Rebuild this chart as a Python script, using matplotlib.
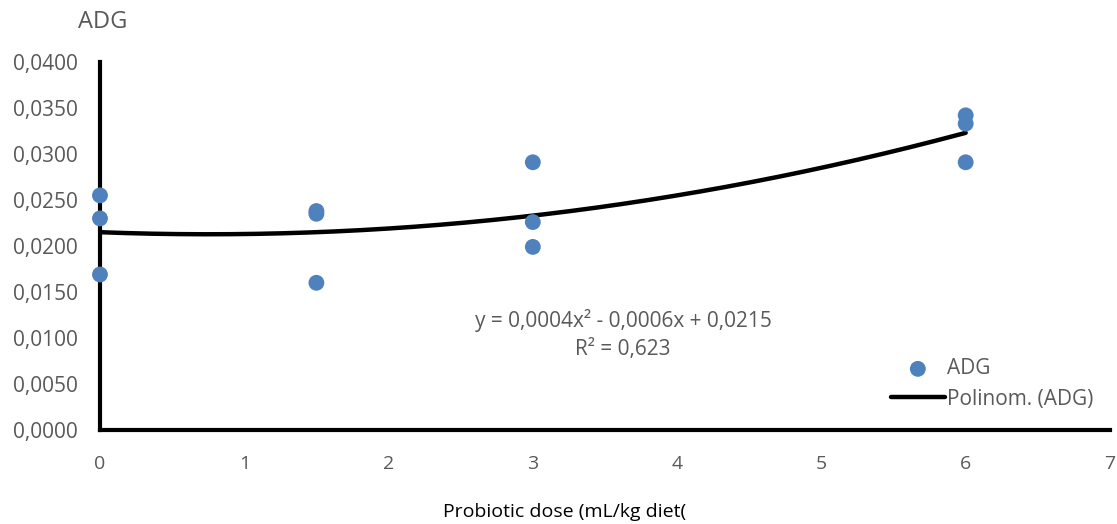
import matplotlib.pyplot as plt
import numpy as np

# data
dose = [0, 0, 0, 1.5, 1.5, 1.5, 3, 3, 3, 6, 6, 6]
adg = [0.0255, 0.0230, 0.0169, 0.0238, 0.0235, 0.0160,
       0.0291, 0.0226, 0.0199, 0.0342, 0.0333, 0.0291]
coef = [0.0004, -0.0006, 0.0215]  # y = 0,0004x2 - 0,0006x + 0,0215
r2 = "0,623"
xticks = [0, 1, 2, 3, 4, 5, 6, 7]
yticks = [0, 0.005, 0.01, 0.015, 0.02, 0.025, 0.03, 0.035, 0.04]

grey = "#595959"
blue = "#4F81BD"
plt.rcParams['font.family'] = ['Open Sans', 'DejaVu Sans']

fig = plt.figure(figsize=(11.17, 5.24), dpi=100)
ax = fig.add_axes([0.0895, 0.1794, 0.9042, 0.7023])

xs = np.linspace(0, 6, 200)
ax.plot(xs, np.polyval(coef, xs), color="black", lw=3.2, solid_capstyle="round",
        label="Polinom. (ADG)", zorder=3)
ax.scatter(dose, adg, s=130, color=blue, label="ADG", clip_on=False, zorder=4,
           edgecolors="none")

ax.set_xlim(0, 7)
ax.set_ylim(0, 0.04)
ax.set_xticks(xticks)
ax.set_yticks(yticks)
ax.set_yticklabels([("%.4f" % v).replace(".", ",") for v in yticks])
ax.tick_params(length=0, colors=grey, labelsize=15)
ax.tick_params(axis="x", pad=18, labelsize=14)
ax.tick_params(axis="y", pad=16)

for s in ["top", "right"]:
    ax.spines[s].set_visible(False)
for s in ["left", "bottom"]:
    ax.spines[s].set_linewidth(3)
    ax.spines[s].set_color("black")

fig.text(103 / 1117, 1 - 22 / 524, "ADG", color=grey, fontsize=17, ha="center", va="center")
fig.text(565 / 1117, 1 - 512 / 524, "Probiotic dose (mL/kg diet(", color="black",
         fontsize=14, ha="center", va="center")

fig.text(623 / 1117, 1 - 321 / 524, "y = 0,0004x² - 0,0006x + 0,0215",
         color=grey, fontsize=15, ha="center", va="center")
fig.text(623 / 1117, 1 - 350 / 524, "R² = " + r2,
         color=grey, fontsize=15, ha="center", va="center")

handles, labels = ax.get_legend_handles_labels()
leg = fig.legend(handles[::-1], labels[::-1], loc="center left",
                 bbox_to_anchor=(872 / 1117, 1 - 384 / 524), frameon=False,
                 fontsize=15, labelcolor=grey, handlelength=2.6, handletextpad=0.1,
                 labelspacing=0.45)

fig.savefig("out.png", dpi=100)
